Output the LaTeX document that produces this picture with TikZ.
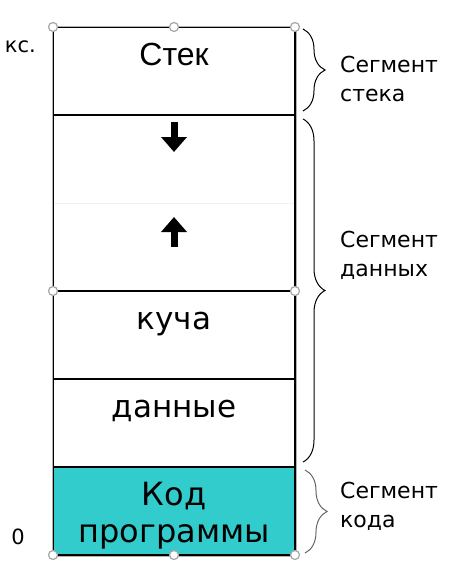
\documentclass[tikz,border=0pt]{standalone}
\usepackage{fontspec}
\setmainfont{DejaVu Sans}
\newfontfamily\arialfont{Liberation Sans}
\usetikzlibrary{positioning,arrows.meta,decorations.pathreplacing}
\definecolor{codecyan}{HTML}{33CCCC}

\begin{document}
\begin{tikzpicture}[x=1pt,y=-1pt,
  cell/.style={draw=black,line width=1.4pt,minimum width=242pt,minimum height=88pt,inner sep=0pt,outer sep=0pt},
  big/.style={font=\fontsize{31}{37}\selectfont,inner sep=0pt,align=center},
  seg/.style={font=\fontsize{22}{29}\selectfont,align=left,anchor=west,inner sep=0pt},
  brc/.style={decorate,decoration={brace,amplitude=22pt},line width=1pt},
  growth/.style={line width=7pt,-{Triangle[width=25pt,length=15pt]}},
  handle/.style={circle,draw=gray!70,fill=white,line width=1.2pt,minimum size=9pt,inner sep=0pt}]
  \useasboundingbox (0,0) rectangle (465,565);

  % memory cells
  \node[cell] (stack) at (174,71) {};
  \node[cell,below=0pt of stack] (gapdown) {};
  \node[cell,below=0pt of gapdown] (gapup) {};
  \node[cell,below=0pt of gapup] (heap) {};
  \node[cell,below=0pt of heap] (data) {};
  \node[cell,fill=codecyan,below=0pt of data] (code) {};
  \draw[white,line width=2pt] ([xshift=1pt]gapdown.south west) -- ([xshift=-1pt]gapdown.south east);
  \draw[gray!12,line width=0.8pt] ([xshift=1pt]gapdown.south west) -- ([xshift=-1pt]gapdown.south east);

  % texts in the cells
  \node[big,anchor=base,font=\arialfont\fontsize{32}{37}\selectfont] (stacktxt) at ([shift={(0,38)}]stack.north) {Стек};
  \node[big,anchor=base] (heaptxt) at ([shift={(0,38)}]heap.north) {куча};
  \node[big,anchor=base] (datatxt) at ([shift={(0,38)}]data.north) {данные};
  \node[big,font=\fontsize{32}{37}\selectfont] (codetxt) at ([shift={(0,4.5)}]code.center) {Код\\программы};

  % growth directions
  \draw[growth] ([shift={(0,7)}]gapdown.north) -- ([shift={(0,37)}]gapdown.north);
  \draw[growth] ([shift={(0,44)}]gapup.north) -- ([shift={(0,14)}]gapup.north);

  % outer frame
  \draw[gray!60,line width=1pt] ([shift={(-1,-1)}]stack.north west) rectangle ([shift={(1,1)}]code.south east);

  % segments
  \draw[brc] ([shift={(8,2)}]stack.north east) -- ([shift={(8,-4)}]stack.south east);
  \draw[brc] ([shift={(8,4)}]gapdown.north east) -- ([shift={(8,-5)}]data.south east);
  \draw[brc,gray!80!black] ([shift={(10,3)}]code.north east) -- ([shift={(10,-2)}]code.south east);
  \node[seg] (segstack) at ([shift={(45,8)}]stack.east) {Сегмент\\стека};
  \node[seg] (segdata) at ([shift={(45,-36)}]heap.north east) {Сегмент\\данных};
  \node[seg] (segcode) at ([shift={(45,-5)}]code.east) {Сегмент\\кода};

  % address marks
  \node[font=\fontsize{21}{25}\selectfont,anchor=east,inner sep=0pt] (maxaddr) at ([shift={(-17,20)}]stack.north west) {кс.};
  \node[font=\fontsize{21}{25}\selectfont,inner sep=0pt] (zeroaddr) at ([shift={(-35,-18)}]code.south west) {0};

  % selection handles
  \foreach \pos in {stack.north west,stack.north,stack.north east,heap.north west,heap.north east,code.south west,code.south,code.south east}
    \node[handle] at (\pos) {};
\end{tikzpicture}
\end{document}
